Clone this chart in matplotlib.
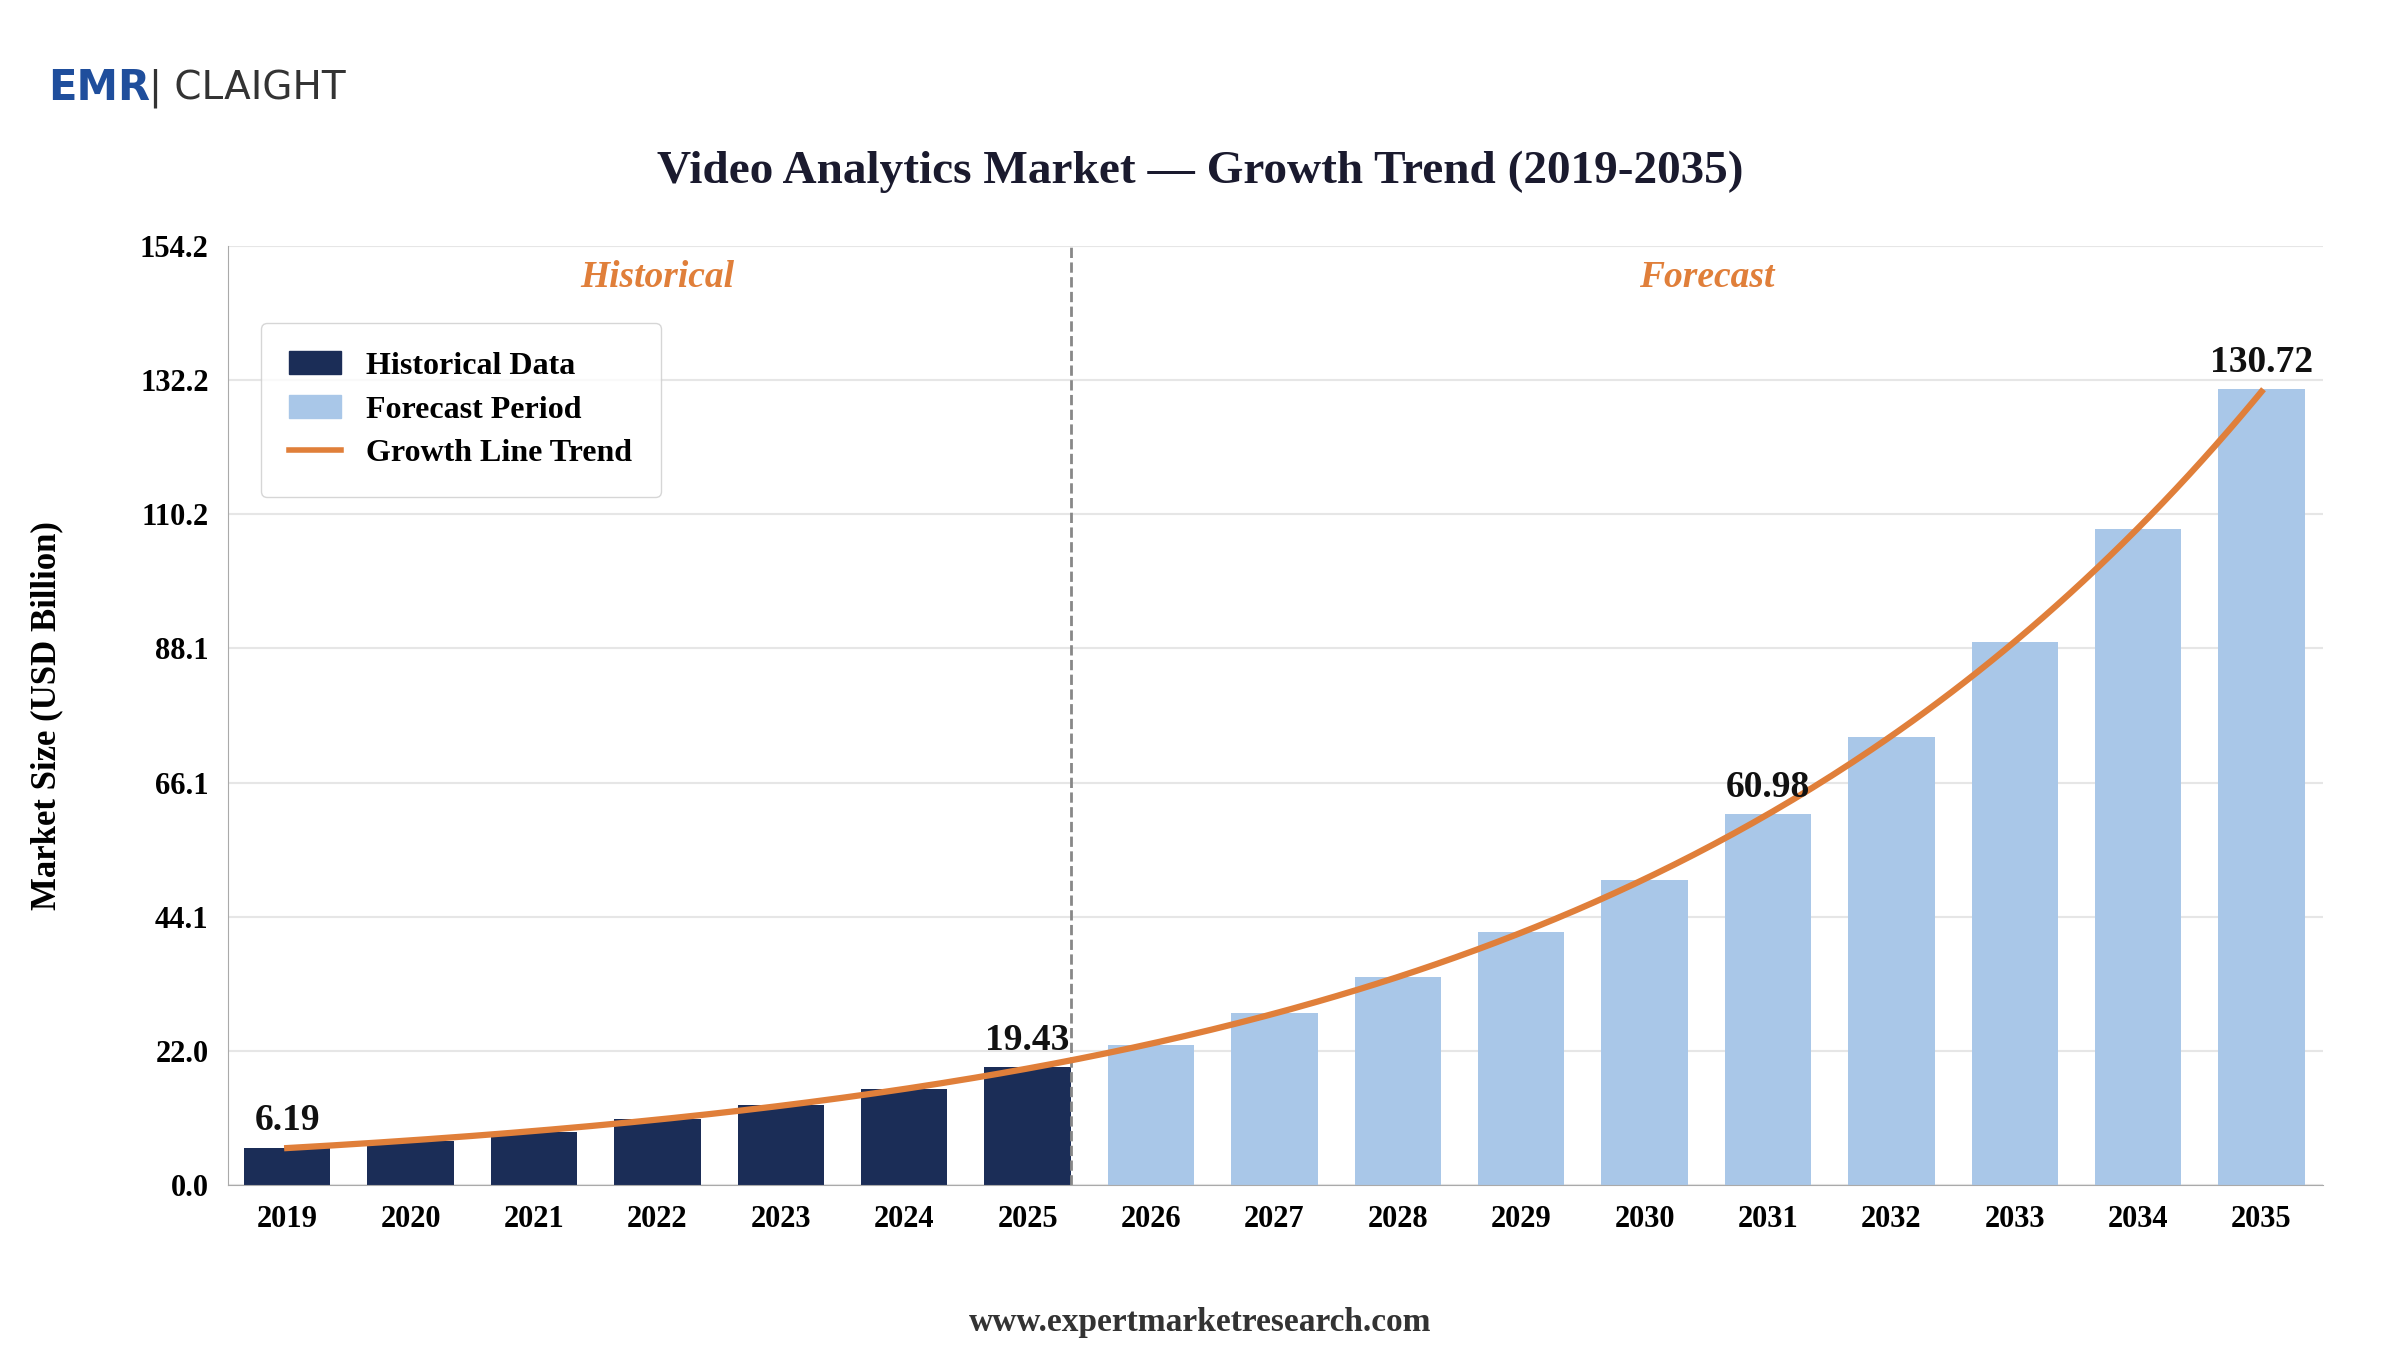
import numpy as np
import matplotlib.pyplot as plt
from matplotlib.patches import Patch
from matplotlib.lines import Line2D

plt.rcParams['font.family'] = ['Liberation Serif', 'DejaVu Serif']

years = list(range(2019, 2036))
values = [6.19, 7.3, 8.8, 10.8, 13.1, 15.8, 19.43, 23.1, 28.2, 34.2, 41.5,
          50.1, 60.98, 73.5, 89.1, 107.7, 130.72]
n_hist = 7
yticks = [0.0, 22.0, 44.1, 66.1, 88.1, 110.2, 132.2, 154.2]
labelled = {2019: "6.19", 2025: "19.43", 2031: "60.98", 2035: "130.72"}

dark = "#1b2d57"
light = "#a9c7e8"
orange = "#e07f3a"

fig = plt.figure(figsize=(24, 13.5), dpi=100)
ax = fig.add_axes([0.095, 0.122, 0.873, 0.696])

x = np.arange(len(years))
colors = [dark] * n_hist + [light] * (len(years) - n_hist)
ax.bar(x, values, width=0.7, color=colors, zorder=2)

# trend line: fit on log values
coef = np.polyfit(x, np.log(values), 3)
xs = np.linspace(0, len(years) - 1, 300)
ax.plot(xs, np.exp(np.polyval(coef, xs)), color=orange, lw=4.5, zorder=3)

for i, yr in enumerate(years):
    if yr in labelled:
        ax.text(i, values[i] + 1.5, labelled[yr], ha='center', va='bottom',
                fontsize=27, fontweight='bold', color='#111111', zorder=4)

# divider at the right edge of the last historical bar
ax.axvline(n_hist - 1 + 0.35, color='#888888', ls='--', lw=2)
ax.text(3, 149, "Historical", ha='center', va='center', fontsize=27,
        fontstyle='italic', fontweight='bold', color=orange)
ax.text(11.5, 149, "Forecast", ha='center', va='center', fontsize=27,
        fontstyle='italic', fontweight='bold', color=orange)

ax.set_xlim(-0.48, len(years) - 0.5)
ax.set_ylim(0, 154.2)
ax.set_yticks(yticks)
ax.set_yticklabels([f"{t:.1f}" for t in yticks], fontsize=22, fontweight='bold')
ax.set_xticks(x)
ax.set_xticklabels([str(y) for y in years], fontsize=22, fontweight='bold')
ax.grid(axis='y', color='#e6e6e6', lw=1.5, zorder=0)
ax.set_axisbelow(True)
for s in ['top', 'right']:
    ax.spines[s].set_visible(False)
ax.spines['left'].set_color('#aaaaaa')
ax.spines['bottom'].set_color('#aaaaaa')
ax.tick_params(length=0, pad=14)
ax.set_ylabel("Market Size (USD Billion)", fontsize=25, fontweight='bold', labelpad=55)

handles = [Patch(color=dark), Patch(color=light), Line2D([0], [0], color=orange, lw=4)]
leg = ax.legend(handles, ["Historical Data", "Forecast Period", "Growth Line Trend"],
                loc='upper left', bbox_to_anchor=(0.008, 0.935),
                prop={'weight': 'bold', 'size': 23}, borderpad=0.9, labelspacing=0.45,
                handlelength=1.6, frameon=True)
leg.get_frame().set_edgecolor('#cccccc')

fig.text(0.5, 0.873, "Video Analytics Market — Growth Trend (2019-2035)",
         ha='center', va='center', fontsize=34, fontweight='bold', color='#1a1a2e')
fig.text(0.5, 0.02, "www.expertmarketresearch.com", ha='center', va='center',
         fontsize=24, fontweight='bold', color='#333333')
fig.text(0.02, 0.935, "EMR", fontsize=30, fontweight='bold', color='#1f4e9c',
         family='DejaVu Sans', va='center')
fig.text(0.062, 0.935, "| CLAIGHT", fontsize=28, color='#333333',
         family='DejaVu Sans', va='center')

fig.savefig("out.png", dpi=100)
